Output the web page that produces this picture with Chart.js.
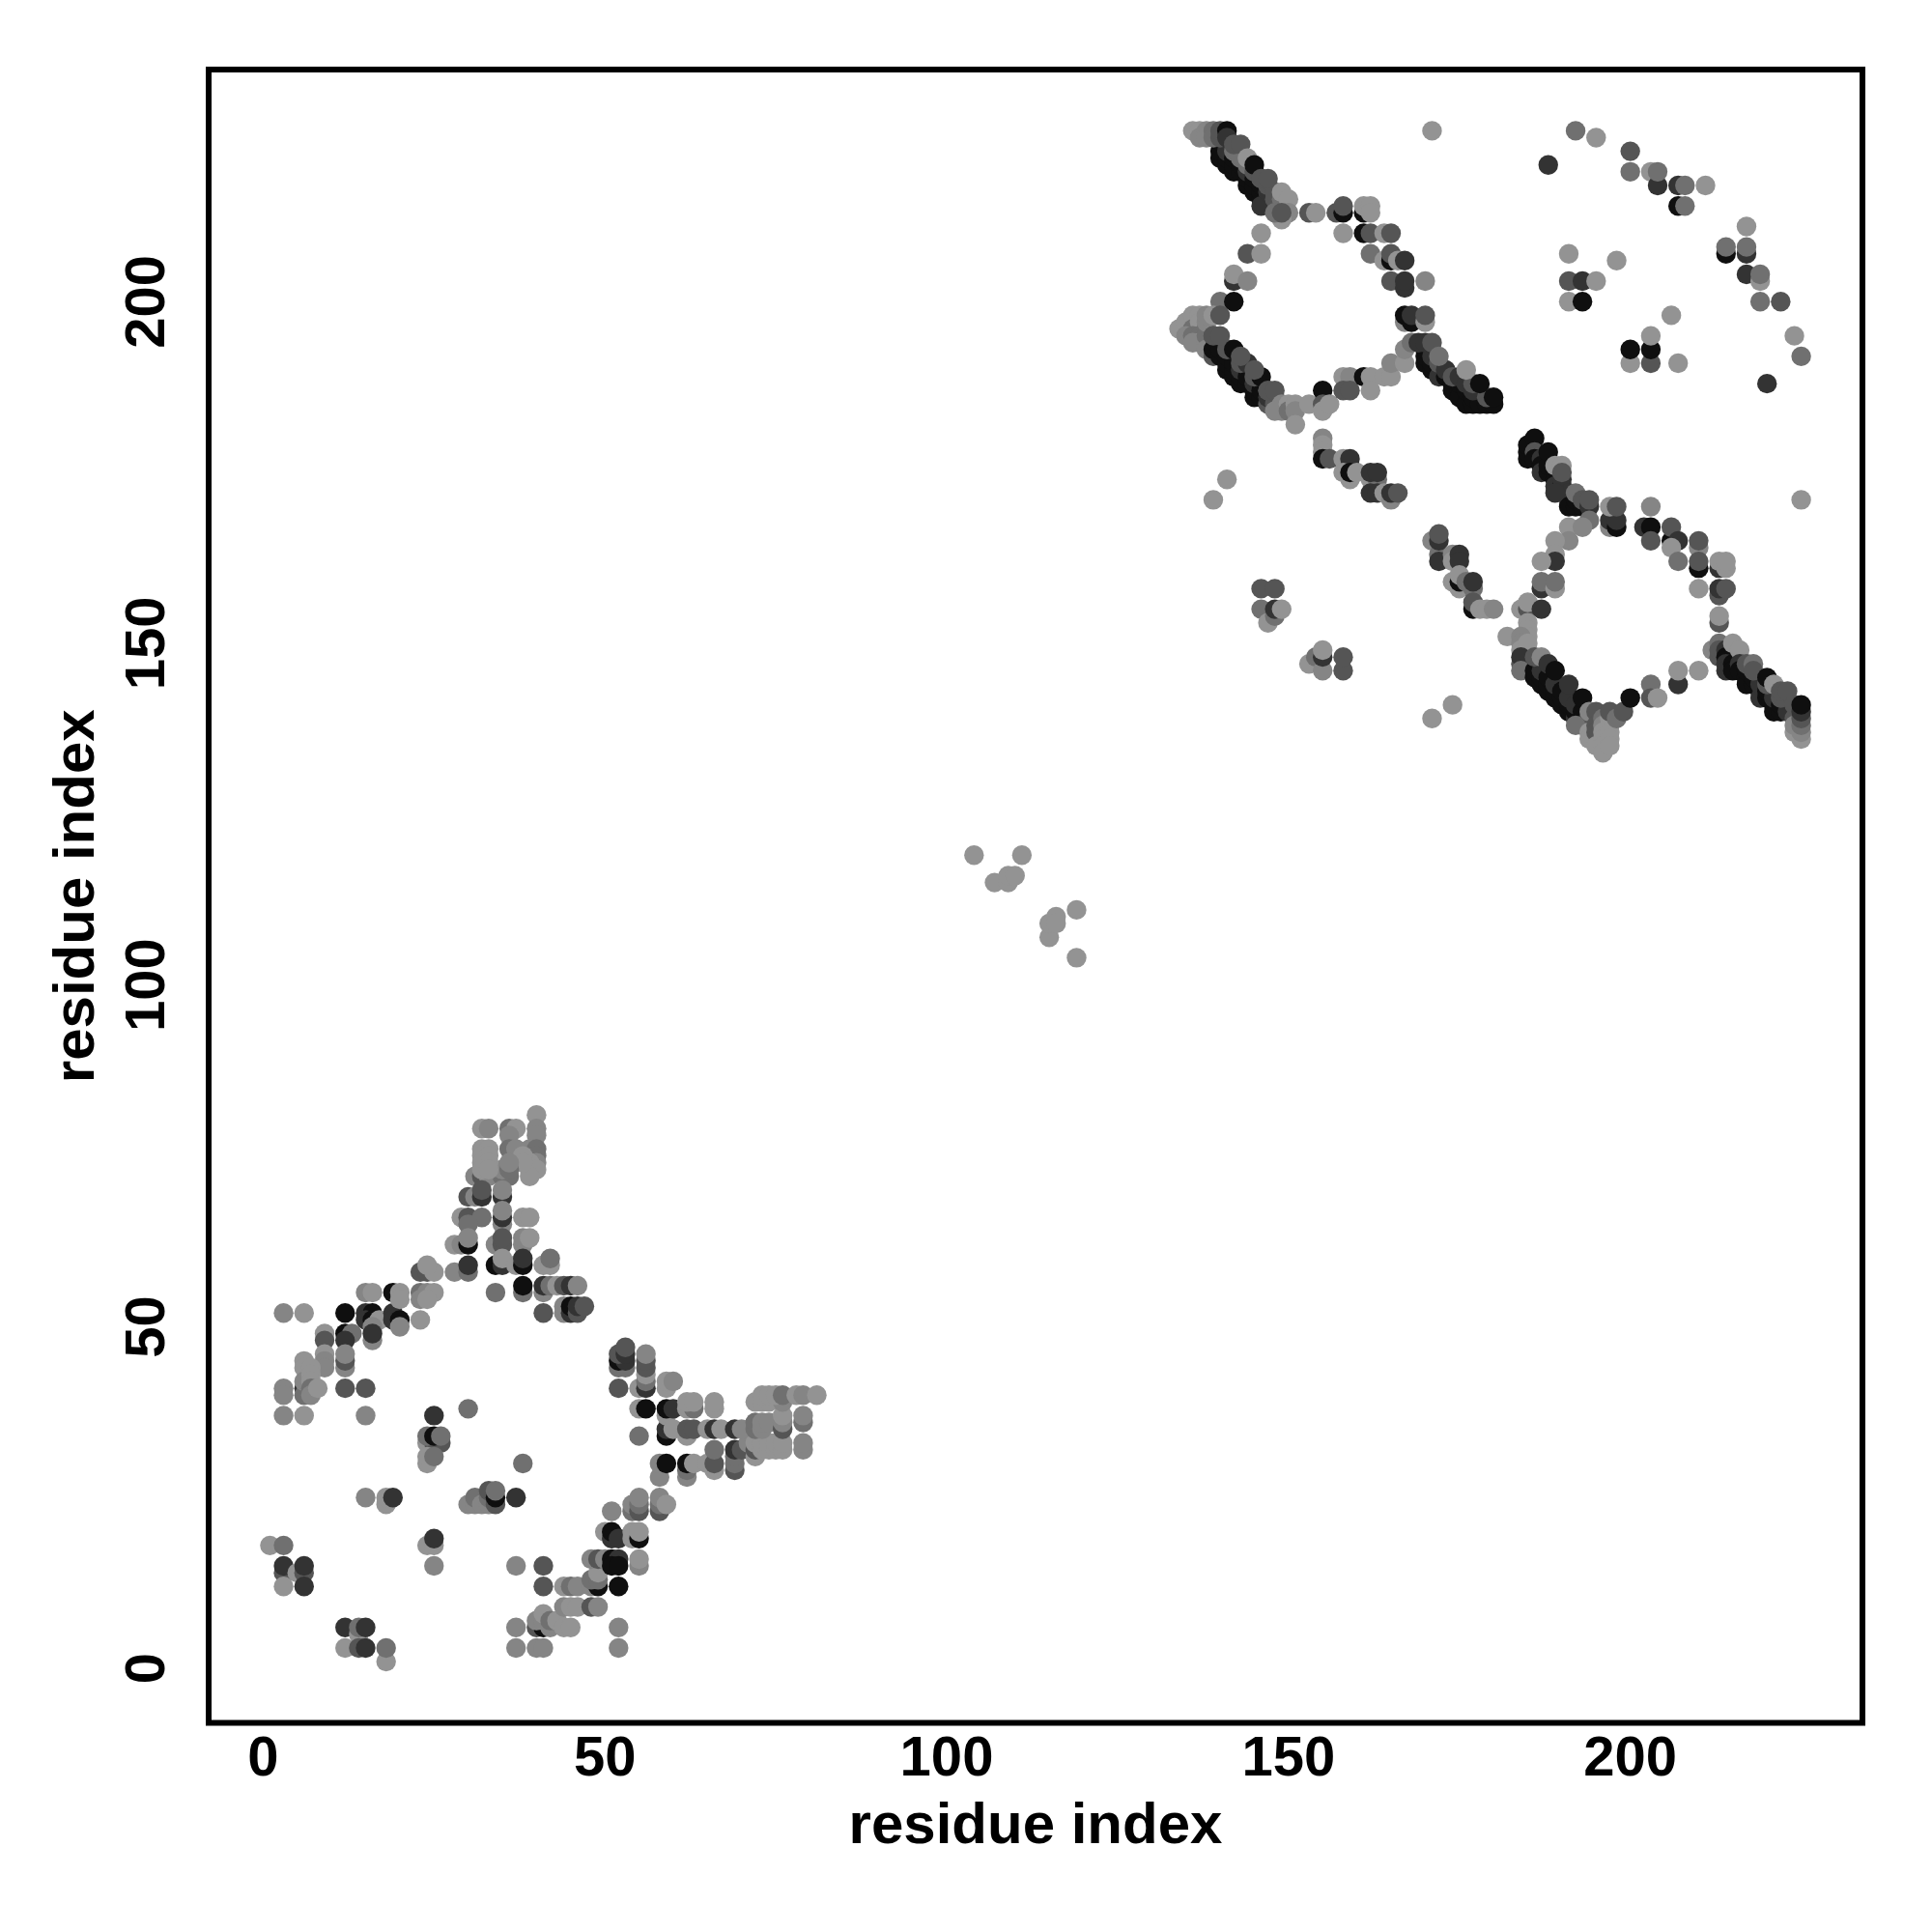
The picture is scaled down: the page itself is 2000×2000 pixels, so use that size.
<!DOCTYPE html>
<html>
<head>
<meta charset="utf-8">
<style>
  body { margin: 0; background: #fff; }
</style>
<script src="https://cdn.jsdelivr.net/npm/chart.js@4"></script>
</head>
<body>
<canvas id="chart" width="2000" height="2000" style="width:2000px;height:2000px;display:block"></canvas>
<script>
// contact map, values. I/J = residue index, S = contact score 0..5
const tickValues = [0, 50, 100, 150, 200];
const axisLabel = "residue index";

const armI = [3,6,12,15,16,15,16,17,19,19,20,20,23,15,16,19,20,20,23,24,25,23,24,9,9,12,13,12,16,16,16,9,9,9,12,12,12,6,6,7,3,3,6,6,6,7,7,7,7,8,12,15,3,6,15,30];
const armJ = [52,52,52,52,52,51,51,51,52,51,51,50,51,55,55,55,55,54,55,55,55,54,54,49,48,49,49,48,50,48,49,46,45,44,44,45,46,45,44,44,41,40,41,40,42,43,42,41,40,41,41,41,37,37,37,38];
const armS = [1,0,5,4,5,4,5,0,4,4,5,1,0,1,0,5,0,0,2,1,0,1,0,0,3,5,2,4,1,1,4,0,1,1,1,3,1,0,0,0,1,1,4,2,1,0,0,2,1,0,3,3,1,0,1,2];

const spikeI = [40,40,40,32,33,36,37,36,36,37,39,40,40,40,39,39,40,39,38,38,31,32,33,35,36,35,36,36,32,33,32,33,32,33,32,33,
  30,31,32,32,35,35,
  29,30,32,30,35,35,35,38,39,
  28,29,30,30,34,35,35,38,38,39,
  28,30,30,34,35,35,37,38,38,41,42,42,
  23,24,25,24,
  34,38,38,41,41,42,43,44,45,46,
  41,44,44,45,45,46,46,47];
const spikeJ = [81,79,78,79,79,79,79,78,76,76,76,76,75,74,74,73,73,72,75,74,72,72,72,72,72,73,73,74,76,76,75,75,74,74,73,73,
  69,69,69,70,69,70,
  66,66,66,65,65,66,67,66,66,
  62,62,62,63,62,62,63,62,63,63,
  58,58,59,59,59,60,59,59,60,59,59,60,
  58,58,58,59,
  55,55,56,55,56,56,56,56,56,56,
  52,52,53,52,53,52,53,53];
const spikeS = [0,1,1,0,1,2,0,1,2,1,1,2,2,1,0,0,0,0,0,0,1,3,1,2,2,1,2,1,0,0,0,0,0,0,0,0,
  3,1,4,3,4,1,
  0,3,2,2,1,4,1,0,0,
  0,1,5,1,1,3,3,1,1,0,
  1,2,4,5,4,0,0,5,4,0,0,2,
  3,3,0,0,
  2,2,5,1,4,2,0,3,4,1,
  3,1,1,4,5,3,4,3];

const baseI = [25,24,26,25,24,25,26,24,24,25,38,
  15,18,18,19,
  30,31,31,32,33,33,33,34,34,34,37,
  1,3,24,25,25,25,
  37,41,3,3,5,6,6,3,6,
  41,44,45,46,
  12,14,14,15,12,14,15,18,18,
  37,37,40,41,
  40,41,40,41,41,42,42,43,44,45,44,45,46,
  48,49];
const baseJ = [37,33,33,33,34,34,34,30,31,31,30,
  25,24,25,25,
  24,24,25,24,24,25,26,24,25,26,25,
  18,18,18,18,19,15,
  15,15,14,15,14,14,15,12,12,
  12,12,12,12,
  6,5,6,6,3,3,3,1,3,
  6,3,3,3,
  6,6,7,7,8,6,7,7,6,6,9,9,9,
  9,9];
const baseS = [4,0,3,3,2,5,2,0,0,2,2,
  1,0,0,4,
  1,1,2,1,1,2,3,3,5,2,4,
  0,2,0,0,4,1,
  1,3,3,4,0,3,4,0,4,
  3,0,2,1,
  4,0,2,4,0,3,4,0,2,
  1,1,1,1,
  3,5,1,1,0,1,2,0,0,0,1,0,0,
  3,1];

const wingI = [48,49,48,49,49,52,
  48,49,50,51,52,51,52,55,55,
  50,51,51,52,54,54,55,55,
  51,54,54,55,55,55,58,58,58,59,
  52,52,
  58,62,62,58,59,62,63,65,66,66,69,69,69,
  66,69,70,72,
  71,72,72,73,73,74,74,75,75,76,76,79,79,
  55,59,59,59,60,62,62,63,65,66,67,69,70,
  72,72,73,73,74,76,76,76,79,79,
  52,55,56,56,56,56,56,56,
  52,53,52,53,52,53,53,
  59,59,60,
  55,56,59,60,62,63,62,63,66,66,
  72,73,74,76,73,74,75,76,78,79,81];
const wingJ = [12,12,13,13,14,12,
  16,16,16,16,16,15,15,15,16,
  20,19,20,19,19,20,19,20,
  23,23,24,23,24,25,23,24,25,24,
  6,3,
  28,28,29,30,30,30,30,30,29,30,29,30,31,
  32,32,32,31,
  33,32,33,32,33,32,33,32,33,32,33,32,33,
  34,34,35,37,35,34,35,35,35,35,35,35,35,
  35,36,35,36,36,35,36,37,36,37,
  41,41,41,42,43,44,45,46,
  44,44,45,45,46,46,47,
  41,42,42,
  38,38,38,38,38,38,39,39,38,39,
  39,39,39,39,40,40,40,40,40,40,40];
const wingS = [1,5,2,2,0,5,
  1,3,1,5,4,5,5,1,0,
  0,4,5,4,0,0,5,0,
  1,2,1,3,2,1,3,2,1,0,
  1,1,
  1,1,2,1,5,5,0,0,0,3,3,2,2,
  2,4,3,0,
  1,3,0,0,0,0,0,0,0,0,0,1,1,
  2,5,4,0,0,0,3,3,0,4,0,4,1,
  2,2,1,1,1,3,1,0,2,1,
  3,0,4,2,0,3,3,1,
  2,2,5,4,3,4,3,
  0,0,1,
  0,5,5,4,0,2,0,0,0,0,
  0,0,0,1,0,0,0,2,0,1,0];

const midI = [104,111,107,109,109,110,115,115,116,116,119,119];
const midJ = [119,119,115,115,116,116,107,109,110,109,111,104];
const midS = [0,0,0,0,0,0,0,0,0,0,0,0];

const topBandI = [140,141,142,144,145,146,
  140,141,142,143,144,145,146,147,148,146,
  141,142,143,144,145,146,147,148,149,
  142,143,144,145,146,147,148,149,
  136,137,137,138,138,139,139,140,140,141,141,142,143,144,145,146,147,149,150,150,149,148,149,
  153,154,157,158,158,161,161,162,162,
  158,161,162,164,165,162,164,165,165,166,167,
  165,167,167,170,167,167,168,168,170,170,
  146,144,146,142,142,144,140,142];
const topBandJ = [221,220,219,217,216,215,
  222,221,220,219,218,217,216,215,214,214,
  222,221,220,219,218,217,216,215,214,
  222,221,220,219,218,217,216,215,
  225,225,224,225,224,225,224,224,225,225,224,223,223,221,220,218,218,216,215,213,212,213,213,
  213,213,213,213,214,213,214,214,213,
  210,210,210,210,210,207,206,206,207,206,206,
  203,202,203,203,197,198,197,198,197,198,
  210,207,207,203,204,203,200,200];
const topBandS = [5,5,5,5,5,5,
  5,5,5,5,5,5,5,5,4,4,
  4,5,5,4,5,5,4,3,3,
  2,2,2,3,3,3,3,2,
  0,0,1,1,1,2,2,3,3,5,4,3,3,0,5,3,3,0,0,1,0,2,3,
  3,0,3,5,3,5,0,0,0,
  0,5,3,0,3,2,0,5,3,0,4,
  3,4,4,1,1,5,5,4,0,3,
  0,3,0,4,0,1,2,5];

const lowBandI = [134,135,136,137,136,137,135,136,137,138,137,136,138,138,138,138,139,140,138,139,
  139,141,142,143,145,
  139,140,141,142,143,144,145,146,147,
  140,141,142,143,144,145,146,147,148,
  141,143,145,147,148,
  139,140,142,144,146,147,148,143,145,
  149,149,148,150,150,151,151,151,153,
  155,155,155,156,
  158,159,158,159,161,162,162,164,165,165,167,167,168,
  170,170,170,171,171,172,172,173,174,174,175,175,175,176,176,177,177,178,179,180,
  171,172,173,174,175,176,177,177,179,
  169,170,171,172,176,178,180];
const lowBandJ = [196,197,198,198,196,197,195,195,195,196,194,194,194,195,197,198,198,198,193,195,
  192,190,189,188,186,
  193,192,191,190,189,188,187,186,185,
  193,192,191,190,189,188,187,186,185,
  193,191,189,187,186,
  195,195,193,191,189,187,187,192,190,
  185,184,184,185,184,185,184,182,185,
  187,185,184,185,
  189,189,187,187,189,189,187,189,189,191,191,193,194,
  191,192,193,190,191,190,189,189,188,187,187,186,188,185,187,185,186,185,185,185,
  192,191,190,189,189,188,187,188,186,
  194,194,194,192,190,188,186];
const lowBandS = [0,0,0,0,2,0,1,2,2,2,0,1,1,2,1,1,0,3,1,3,
  3,5,5,5,5,
  5,5,5,5,5,5,5,5,3,
  5,5,5,4,5,4,5,4,3,
  3,3,3,3,3,
  3,3,5,4,5,3,3,3,3,
  1,1,1,0,2,0,1,0,0,
  5,3,0,0,
  0,1,3,3,5,0,0,0,0,1,0,1,2,
  5,5,5,5,5,5,4,5,5,5,5,5,5,5,5,5,5,5,5,5,
  4,3,4,3,4,4,4,3,3,
  4,4,3,2,0,5,5];

const strayI = [155,155,155,155,156,158,159,159,
  158,159,159,160,162,163,162,163,
  162,163,164,165,165,166,141,139,
  146,148,146,147,148,148,149,
  153,154,155,155,155,158,158,174,171,
  171,172,172,172,172,174,174,175,175,
  174,175,175,175,176,177,177,177,177,178,179,180,182];
const strayJ = [180,179,178,177,177,177,176,177,
  175,174,175,175,174,174,175,175,
  172,172,172,171,172,172,174,171,
  158,158,155,153,154,155,155,
  147,148,146,148,149,146,148,141,139,
  165,163,162,165,166,163,162,163,162,
  159,158,159,160,159,158,159,155,156,155,155,155,151];
const strayS = [1,0,0,5,3,0,2,4,
  0,0,5,0,0,2,4,4,
  4,4,0,1,4,3,0,0,
  3,3,2,0,2,4,0,
  0,2,1,4,0,3,3,0,0,
  1,2,4,4,3,1,0,4,4,
  0,0,5,0,2,2,4,5,3,0,0,1,0];

const farI = [171,192,195,200,188,200,203,204,204,207,208,211,207,208,
  191,198,191,193,195,191,193,206,200,200,203,203,203,207,
  217,214,214,217,217,217,219,219,219,222,224,225,220];
const farJ = [225,225,224,222,220,219,219,217,219,217,217,217,214,214,
  207,206,203,203,203,200,200,198,191,193,191,193,195,191,
  211,207,208,207,208,204,203,204,200,200,195,192,188];
const farS = [0,2,0,3,4,2,0,4,2,4,2,0,5,2,
  0,0,3,4,0,0,5,0,0,5,3,5,0,0,
  0,5,2,4,2,4,0,2,2,3,0,2,4];

const ringI = [185,185,185,186,186,186,187,187,187,188,188,188,189,189,189,190,190,191,191,191,192,192,192,193,193,194,194,189,190,190,189,
  194,191,193,191,189,189,189,187,187,187,189,189,
  197,197,198,198,197,198,203,
  202,203,203,206,206,207,206,207,210,210,210,210,
  213,213,214,214,210,213,213,214,213,213,225,
  184,185,185,187,185,185,185,184,184,184,185,184,184,184];
const ringJ = [177,178,179,180,178,177,177,176,175,175,176,178,174,175,173,173,174,172,171,170,170,171,172,170,171,170,171,176,176,175,172,
  168,167,167,165,165,163,162,162,158,159,158,159,
  167,168,167,168,170,170,170,
  167,167,165,165,167,165,164,162,164,165,161,162,
  161,162,161,162,158,157,158,158,153,154,171,
  155,155,156,155,153,152,151,151,150,149,150,147,148,146];
const ringS = [5,5,5,5,3,5,4,5,4,5,5,5,5,5,4,5,4,4,4,5,5,5,2,5,3,4,3,0,0,3,4,
  2,0,1,1,0,0,4,0,4,2,0,2,
  1,4,5,4,0,3,1,
  4,5,3,5,3,4,0,2,1,3,5,3,
  4,0,0,0,0,3,4,3,3,0,0,
  0,3,0,4,0,0,0,1,1,0,0,3,4,2];

const lowerBandI = [186,187,188,189,190,191,192,193,
  186,187,188,189,190,191,192,193,194,
  187,188,189,190,191,192,193,194,
  186,187,188,189,191,193,194,195,192,
  194,194,195,195,195,196,196,196,196,196,196,197,197,197,197,197,197,198,199,
  200,203,203,204,207,207,210,
  212,213,213,213,214,214,214,214,215,215,215,216,216,216,217,217,217,218,218,219,219,219,220,220,221,221,221,222,222,223,224,
  217,218,218,220,220,221,222,222,223,224,224,224,
  225,225,225,225,225,225];
const lowerBandJ = [145,144,143,142,141,140,139,138,
  146,145,144,143,142,141,140,139,138,
  146,145,144,143,142,141,140,139,
  148,148,147,146,144,142,140,140,138,
  137,136,138,137,135,139,138,137,136,135,134,139,138,137,136,135,140,139,140,
  142,144,142,142,144,146,146,
  149,150,148,149,149,148,147,146,147,146,150,149,147,146,145,144,146,144,145,143,142,144,142,143,141,140,142,140,141,140,139,
  147,147,146,144,145,144,142,143,143,141,137,138,
  136,137,138,139,140,141];
const lowerBandS = [5,5,5,5,5,5,4,3,
  5,5,5,5,5,5,5,5,3,
  4,5,4,5,4,4,5,3,
  3,1,4,5,4,5,1,3,2,
  0,0,3,3,0,2,1,0,0,0,0,0,0,0,0,0,3,2,3,
  5,2,3,0,4,0,0,
  1,2,3,3,4,5,4,4,5,5,0,0,4,5,5,5,5,5,5,5,4,4,5,5,5,5,4,5,5,4,3,
  3,2,3,3,5,0,3,3,3,3,0,1,
  0,1,2,3,4,5];

// back to front, same as the source plot
const resI = [].concat(armI, spikeI, baseI, wingI, midI, topBandI, lowBandI, strayI, farI, ringI, lowerBandI);
const resJ = [].concat(armJ, spikeJ, baseJ, wingJ, midJ, topBandJ, lowBandJ, strayJ, farJ, ringJ, lowerBandJ);
const score = [].concat(armS, spikeS, baseS, wingS, midS, topBandS, lowBandS, strayS, farS, ringS, lowerBandS);

const greys = ["#939393", "#858585", "#707070", "#555555", "#333333", "#0f0f0f"];
const fontFamily = "'Liberation Sans', Arial, sans-serif";

// the frame round the plot, R box() style
const boxPlugin = {
  id: "box",
  afterDraw(chart) {
    const { ctx, chartArea: a } = chart;
    ctx.save();
    ctx.strokeStyle = "#000";
    ctx.lineWidth = 6;
    ctx.strokeRect(a.left, a.top, a.right - a.left, a.bottom - a.top);
    ctx.restore();
  },
};

function axis(extra) {
  return Object.assign({
    type: "linear",
    min: -7.96,
    max: 233.96,
    grid: { display: false, drawTicks: false },
    border: { display: false },
    afterBuildTicks(scale) {
      scale.ticks = tickValues.map((v) => ({ value: v }));
    },
  }, extra);
}

new Chart(document.getElementById("chart"), {
  type: "scatter",
  data: {
    datasets: [
      {
        data: resI.map((v, i) => ({ x: v, y: resJ[i] })),
        pointRadius: 10.2,
        pointHoverRadius: 10.2,
        pointBorderWidth: 0,
        pointBackgroundColor: score.map((s) => greys[s]),
      },
    ],
  },
  options: {
    responsive: false,
    animation: false,
    clip: false,
    layout: { padding: { left: 44, right: 72, top: 72, bottom: 73 } },
    plugins: { legend: { display: false }, tooltip: { enabled: false } },
    scales: {
      x: axis({
        ticks: {
          color: "#000",
          maxRotation: 0,
          autoSkip: false,
          padding: 4,
          font: { family: fontFamily, size: 58, weight: "bold" },
        },
        title: {
          display: true,
          text: axisLabel,
          color: "#000",
          padding: { top: 4, bottom: 0 },
          font: { family: fontFamily, size: 60, weight: "bold" },
        },
        afterFit(scale) {
          scale.height = 143.5;
        },
      }),
      y: axis({
        ticks: {
          color: "#000",
          minRotation: 90,
          maxRotation: 90,
          autoSkip: false,
          padding: 14,
          crossAlign: "center",
          font: { family: fontFamily, size: 58, weight: "bold" },
        },
        title: {
          display: true,
          text: axisLabel,
          color: "#000",
          padding: { top: 0, bottom: 0 },
          font: { family: fontFamily, size: 60, weight: "bold" },
        },
        afterFit(scale) {
          scale.width = 172;
        },
      }),
    },
  },
  plugins: [boxPlugin],
});
</script>
</body>
</html>
